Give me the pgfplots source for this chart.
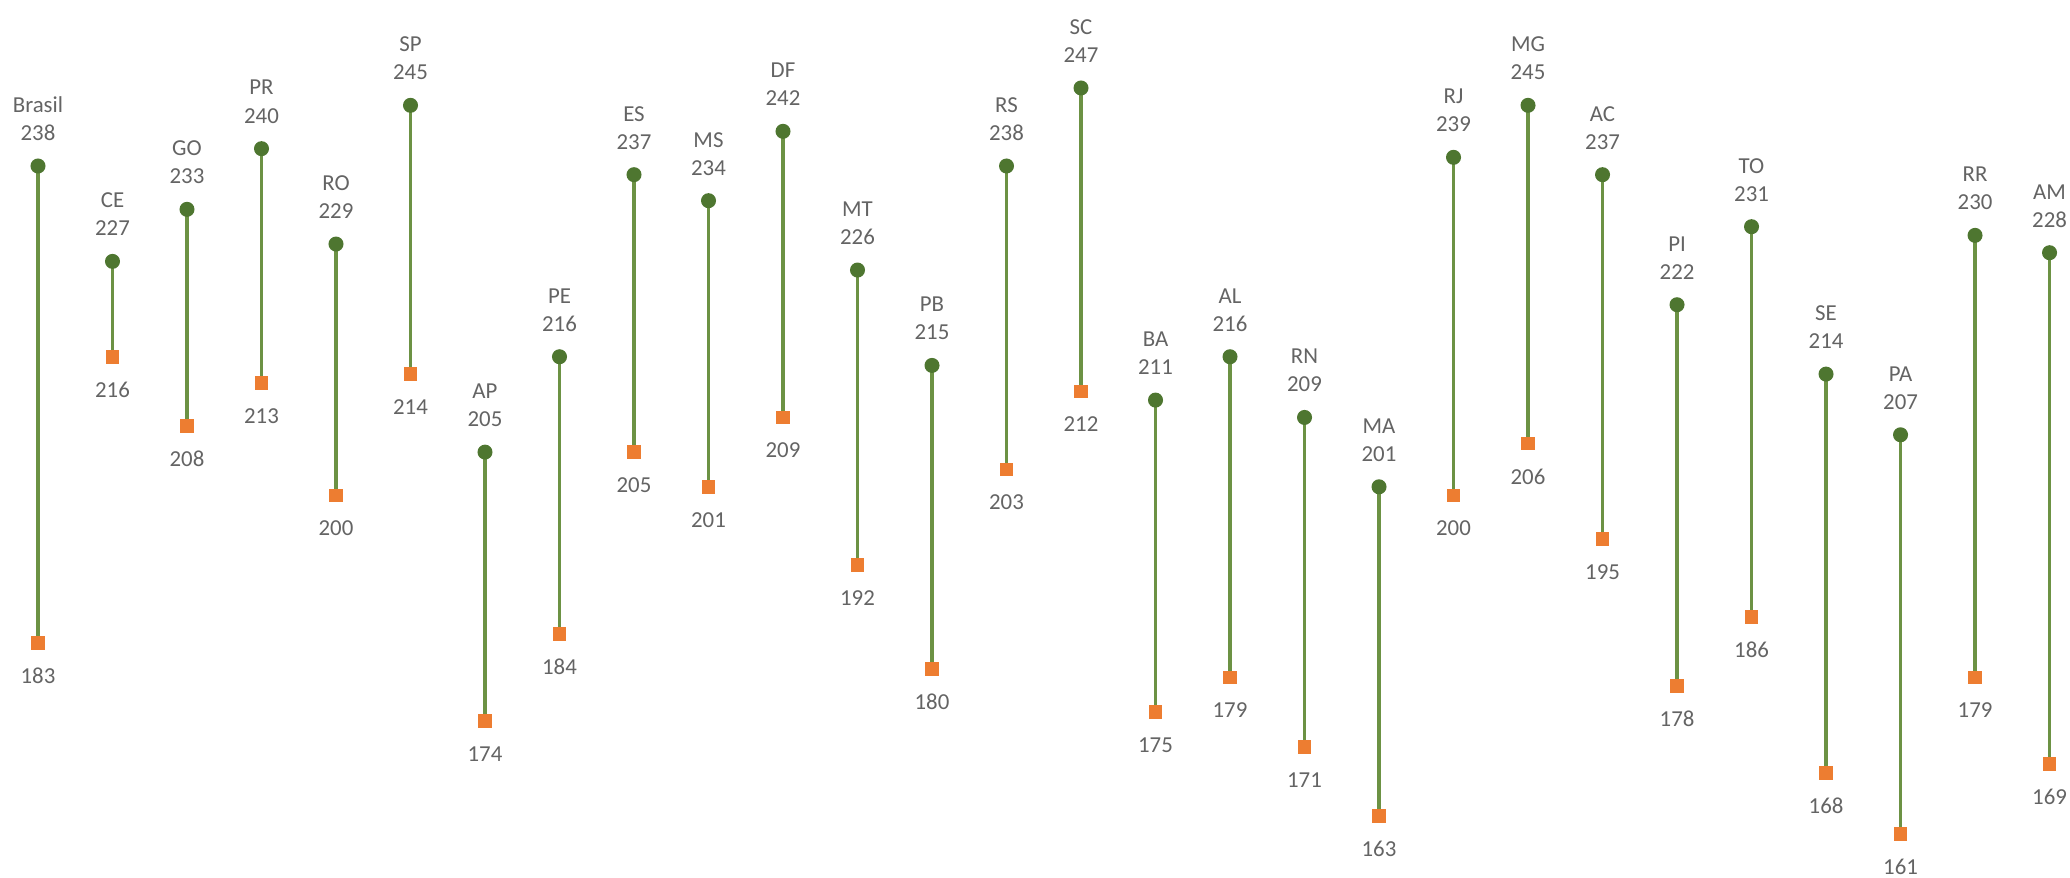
\documentclass[border=0pt]{standalone}
\usepackage{pgfplots}
\usepackage{pgfplotstable}
\usepackage{fontspec}
\setmainfont{Carlito}
\pgfplotsset{compat=1.18}
\definecolor{lineg}{RGB}{108,146,68}
\definecolor{dotg}{RGB}{78,118,48}
\definecolor{sqo}{RGB}{237,125,49}
\definecolor{txt}{RGB}{100,100,100}
\pgfplotstableread{
x name hi lo
0 Brasil 238 183
1 CE 227 216
2 GO 233 208
3 PR 240 213
4 RO 229 200
5 SP 245 214
6 AP 205 174
7 PE 216 184
8 ES 237 205
9 MS 234 201
10 DF 242 209
11 MT 226 192
12 PB 215 180
13 RS 238 203
14 SC 247 212
15 BA 211 175
16 AL 216 179
17 RN 209 171
18 MA 201 163
19 RJ 239 200
20 MG 245 206
21 AC 237 195
22 PI 222 178
23 TO 231 186
24 SE 214 168
25 PA 207 161
26 RR 230 179
27 AM 228 169
}\datatable
\begin{document}
\begin{tikzpicture}
\begin{axis}[
  at={(0,0)}, anchor=south west,
  scale only axis, width=207mm, height=87.8mm,
  xmin=-0.510, xmax=27.275, ymin=155.88, ymax=257.15,
  hide axis, clip=false,
  /pgf/number format/assume math mode=true,
  every node near coord/.append style={font=\fontsize{6.5}{7.8}\selectfont, text=txt, anchor=center, inner sep=0pt},
]
% connecting segments
\addplot[draw=none, mark=none, line width=0.35mm,
  error bars/.cd, y dir=plus, y explicit, error mark=none,
  error bar style={lineg, line width=0.35mm}]
  table[x=x, y=lo, y error expr=\thisrow{hi}-\thisrow{lo}] {\datatable};
% top dots with values
\addplot[only marks, mark=*, mark size=0.68mm, mark options={fill=dotg, draw=dotg},
  point meta=explicit, nodes near coords={\pgfmathprintnumber[int detect, assume math mode=true]{\pgfplotspointmeta}},
  every node near coord/.append style={yshift=3.3mm}]
  table[x=x, y=hi, meta=hi] {\datatable};
% names
\addplot[only marks, mark=none, point meta=explicit symbolic,
  nodes near coords, every node near coord/.append style={yshift=6.1mm}]
  table[x=x, y=hi, meta=name] {\datatable};
% bottom squares with values
\addplot[only marks, mark=square*, mark size=0.62mm, mark options={fill=sqo, draw=sqo},
  point meta=explicit, nodes near coords={\pgfmathprintnumber[int detect, assume math mode=true]{\pgfplotspointmeta}},
  every node near coord/.append style={yshift=-3.3mm}]
  table[x=x, y=lo, meta=lo] {\datatable};
\end{axis}
\pgfresetboundingbox
\useasboundingbox (0,0) rectangle (207mm,87.8mm);
\end{tikzpicture}
\end{document}
